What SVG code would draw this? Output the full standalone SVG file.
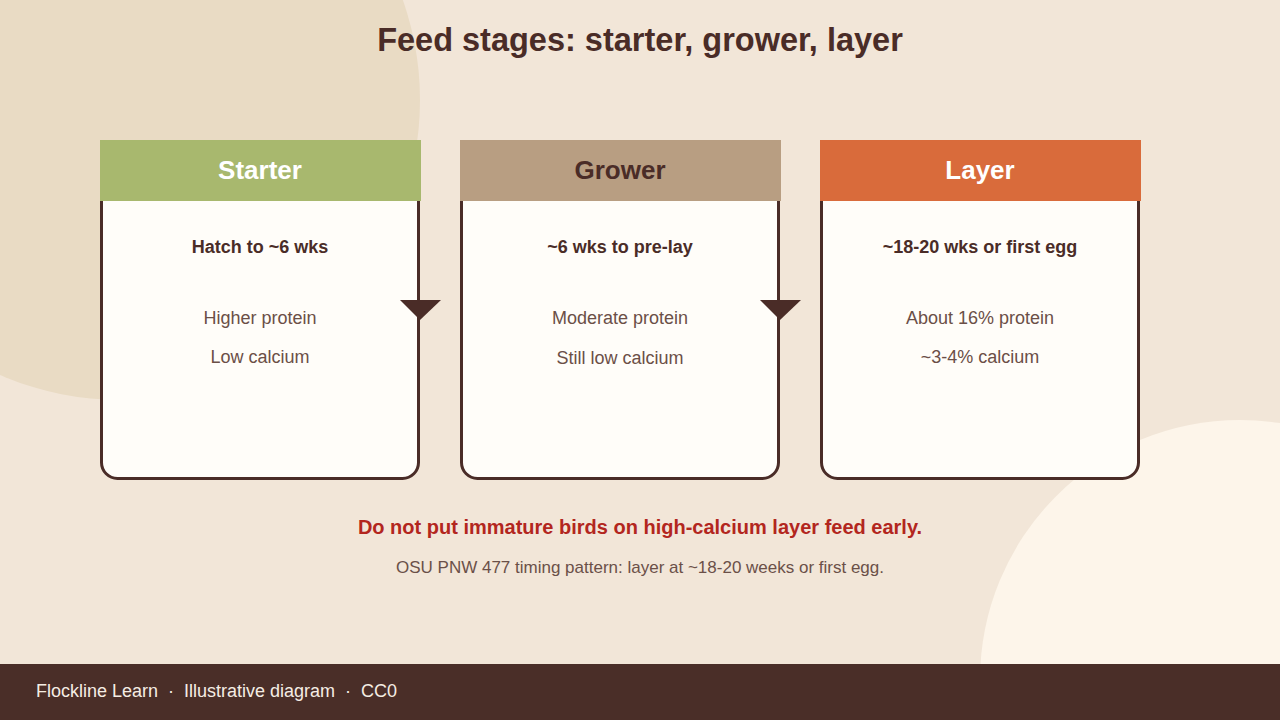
<svg xmlns="http://www.w3.org/2000/svg" width="1280" height="720" viewBox="0 0 1280 720">
<style>
.title{font-family:"Liberation Sans",Arial,sans-serif;font-weight:bold;font-size:32.5px;fill:#4a2c27;text-anchor:middle}
.card{fill:#fffdf9;stroke:#4a2c27;stroke-width:3}
.hdr{font-family:"Liberation Sans",Arial,sans-serif;font-weight:bold;font-size:26px;text-anchor:middle}
.sub{font-family:"Liberation Sans",Arial,sans-serif;font-weight:bold;font-size:18px;fill:#4a2c27;text-anchor:middle}
.body{font-family:"Liberation Sans",Arial,sans-serif;font-size:18px;fill:#6b4f47;text-anchor:middle}
.arrow{fill:#4a2c27}
</style>
<rect width="1280" height="720" fill="#f2e6d8"/>
<circle cx="120" cy="100" r="300" fill="#e9dbc4"/>
<circle cx="1240" cy="680" r="260" fill="#fdf5ea"/>
<text class="title" x="640" y="51">Feed stages: starter, grower, layer</text>

<g id="starter">
<rect class="card" x="101.5" y="141.5" width="317" height="337" rx="16"/>
<rect x="100" y="140" width="321" height="61" fill="#a8b86e"/>
<text class="hdr" x="260" y="179" fill="#ffffff">Starter</text>
<text class="sub" x="260" y="253">Hatch to ~6 wks</text>
<text class="body" x="260" y="324">Higher protein</text>
<text class="body" x="260" y="363">Low calcium</text>
</g>

<g id="grower">
<rect class="card" x="461.5" y="141.5" width="317" height="337" rx="16"/>
<rect x="460" y="140" width="321" height="61" fill="#b89e82"/>
<text class="hdr" x="620" y="179" fill="#4a2c27">Grower</text>
<text class="sub" x="620" y="253">~6 wks to pre-lay</text>
<text class="body" x="620" y="324">Moderate protein</text>
<text class="body" x="620" y="364">Still low calcium</text>
</g>

<g id="layer">
<rect class="card" x="821.5" y="141.5" width="317" height="337" rx="16"/>
<rect x="820" y="140" width="321" height="61" fill="#d96b3b"/>
<text class="hdr" x="980" y="179" fill="#ffffff">Layer</text>
<text class="sub" x="980" y="253">~18-20 wks or first egg</text>
<text class="body" x="980" y="324">About 16% protein</text>
<text class="body" x="980" y="363">~3-4% calcium</text>
</g>

<g id="connectors">
<polygon class="arrow" points="400,300 441,300 420,320"/>
<polygon class="arrow" points="760,300 801,300 780,320"/>
</g>

<g id="notes">
<text x="640" y="534" font-family="Liberation Sans, Arial, sans-serif" font-weight="bold" font-size="20" fill="#b3261e" text-anchor="middle">Do not put immature birds on high-calcium layer feed early.</text>
<text x="640" y="573" font-family="Liberation Sans, Arial, sans-serif" font-size="17" fill="#6b5048" text-anchor="middle">OSU PNW 477 timing pattern: layer at ~18-20 weeks or first egg.</text>
</g>

<g id="footer">
<rect x="0" y="664" width="1280" height="56" fill="#4a2e28"/>
<text x="36" y="697" font-family="Liberation Sans, Arial, sans-serif" font-size="18" fill="#f5ede4" xml:space="preserve">Flockline Learn  ·  Illustrative diagram  ·  CC0</text>
</g>
</svg>
